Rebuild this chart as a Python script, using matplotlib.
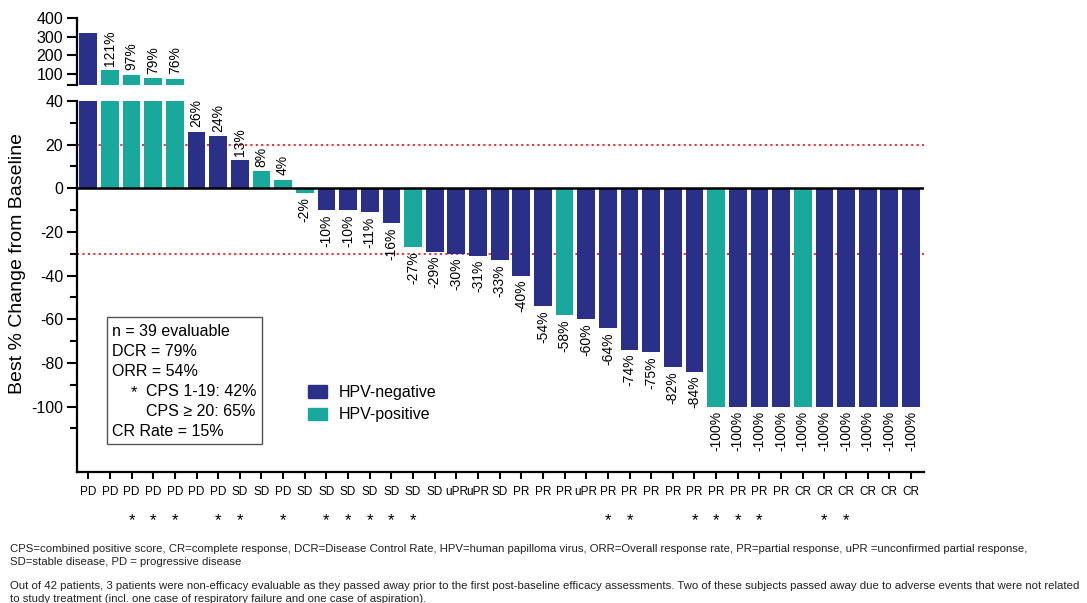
import matplotlib
matplotlib.use('Agg')
import matplotlib.pyplot as plt
from matplotlib import font_manager
from matplotlib.patches import Patch, Rectangle
from matplotlib.transforms import blended_transform_factory

# best % change per patient (waterfall order)
values = [320, 121, 97, 79, 76, 26, 24, 13, 8, 4,
          -2, -10, -10, -11, -16, -27, -29, -30, -31, -33,
          -40, -54, -58, -60, -64, -74, -75, -82, -84,
          -100, -100, -100, -100, -100, -100, -100, -100, -100, -100]
hpv = ['neg', 'pos', 'pos', 'pos', 'pos', 'neg', 'neg', 'neg', 'pos', 'pos',
       'pos', 'neg', 'neg', 'neg', 'neg', 'pos', 'neg', 'neg', 'neg', 'neg',
       'neg', 'neg', 'pos', 'neg', 'neg', 'neg', 'neg', 'neg', 'neg',
       'pos', 'neg', 'neg', 'neg', 'pos', 'neg', 'neg', 'neg', 'neg', 'neg']
responses = ['PD', 'PD', 'PD', 'PD', 'PD', 'PD', 'PD', 'SD', 'SD', 'PD',
             'SD', 'SD', 'SD', 'SD', 'SD', 'SD', 'SD', 'uPR', 'uPR', 'SD',
             'PR', 'PR', 'PR', 'uPR', 'PR', 'PR', 'PR', 'PR', 'PR',
             'PR', 'PR', 'PR', 'PR', 'CR', 'CR', 'CR', 'CR', 'CR', 'CR']
cps_1_19 = [3, 4, 5, 7, 8, 10, 12, 13, 14, 15, 16, 25, 26, 29, 30, 31, 32, 35, 36]

colors = {'neg': '#2A3087', 'pos': '#19A99C'}
W, H = 1087, 603

names = {f.name for f in font_manager.fontManager.ttflist}
narrow = 'Liberation Sans Narrow' if 'Liberation Sans Narrow' in names else 'Liberation Sans'
plt.rcParams['font.family'] = ['Liberation Sans', 'DejaVu Sans']
plt.rcParams['axes.unicode_minus'] = False

fig = plt.figure(figsize=(W / 100, H / 100), dpi=100)
ax = fig.add_axes([77 / W, 1 - 472 / H, (924 - 77) / W, (472 - 101) / H])
axt = fig.add_axes([77 / W, 1 - 85.2 / H, (924 - 77) / W, (85.2 - 18.3) / H])

x = list(range(len(values)))
bar_colors = [colors[h] for h in hpv]
for a in (ax, axt):
    a.bar(x, values, width=0.82, color=bar_colors, zorder=3)
    a.set_xlim(-0.52, 38.6)

# lower (main) axis
ax.set_ylim(-130, 40)
ax.set_yticks(range(-100, 41, 20))
ax.set_yticks([v for v in range(-110, 41, 10) if v % 20], minor=True)
ax.tick_params(axis='y', which='major', length=7, width=1.5, labelsize=11.5, pad=3)
ax.tick_params(axis='y', which='minor', length=5, width=1.5)
ax.set_xticks(x)
ax.set_xticklabels(responses, fontfamily=narrow, fontsize=8.5)
ax.tick_params(axis='x', length=5, width=1.5, pad=5)
for s in ('top', 'right'):
    ax.spines[s].set_visible(False)
for s in ('left', 'bottom'):
    ax.spines[s].set_linewidth(1.6)
ax.axhline(0, color='black', lw=1.8, zorder=4)
for lvl in (20, -30):
    ax.axhline(lvl, color='#E8202A', lw=1.3, ls=(0, (1.2, 1.8)), zorder=1)

# upper (broken) axis
axt.set_ylim(40, 400)
axt.set_yticks([40, 100, 200, 300, 400])
axt.set_yticklabels(['', '100', '200', '300', '400'])
axt.tick_params(axis='y', length=7, width=1.5, labelsize=11.5, pad=3)
axt.set_xticks([])
for s in ('top', 'right', 'bottom'):
    axt.spines[s].set_visible(False)
axt.spines['left'].set_linewidth(1.6)

# value labels
for i, v in enumerate(values):
    if i == 0:
        continue
    target = axt if v > 40 else ax
    off = 3 if v > 0 else -3
    target.annotate(f'{v}%', (i, v), xytext=(0, off), textcoords='offset points',
                    rotation=90, ha='center', va='bottom' if v > 0 else 'top',
                    fontsize=10, zorder=5)

# CPS markers
tr = blended_transform_factory(ax.transData, fig.transFigure)
for b in cps_1_19:
    ax.text(b - 1, 1 - 521 / H, '*', transform=tr, ha='center', va='center', fontsize=12)

fig.text(18 / W, 1 - 263 / H, 'Best % Change from Baseline', rotation=90,
         ha='center', va='center', fontsize=14)

# summary box
fig.patches.append(Rectangle((107 / W, 1 - 444 / H), (262 - 107) / W, (444 - 317) / H,
                             transform=fig.transFigure, fill=False, ec='#555555', lw=1))
box_lines = [(112, 'n = 39 evaluable'), (112, 'DCR = 79%'), (112, 'ORR = 54%'),
             (146, 'CPS 1-19: 42%'), (146, 'CPS \u2265 20: 65%'), (112, 'CR Rate = 15%')]
for k, (px, t) in enumerate(box_lines):
    fig.text(px / W, 1 - (331 + 20 * k) / H, t, ha='left', va='center', fontsize=11.5)
fig.text(134 / W, 1 - 393 / H, '*', ha='center', va='center', fontsize=12)

handles = [Patch(color=colors['neg'], label='HPV-negative'),
           Patch(color=colors['pos'], label='HPV-positive')]
ax.legend(handles=handles, loc='upper left', bbox_to_anchor=(308 / W, 1 - 385 / H),
          bbox_transform=fig.transFigure, frameon=False, fontsize=11.5,
          handlelength=1.2, handleheight=0.8, handletextpad=0.7, labelspacing=0.45,
          borderpad=0, borderaxespad=0)

foot = [
    (549, 'CPS=combined positive score, CR=complete response, DCR=Disease Control Rate, HPV=human papilloma virus, '
          'ORR=Overall response rate, PR=partial response, uPR =unconfirmed partial response,'),
    (562, 'SD=stable disease, PD = progressive disease'),
    (586, 'Out of 42 patients, 3 patients were non-efficacy evaluable as they passed away prior to the first post-baseline '
          'efficacy assessments. Two of these subjects passed away due to adverse events that were not related'),
    (599, 'to study treatment (incl. one case of respiratory failure and one case of aspiration).'),
]
foot_size = 9 if narrow.endswith('Narrow') else 8.2
for py, t in foot:
    fig.text(10 / W, 1 - py / H, t, ha='left', va='center', fontsize=foot_size,
             fontfamily=narrow, color='#222222')

fig.savefig('out.png', dpi=100)
